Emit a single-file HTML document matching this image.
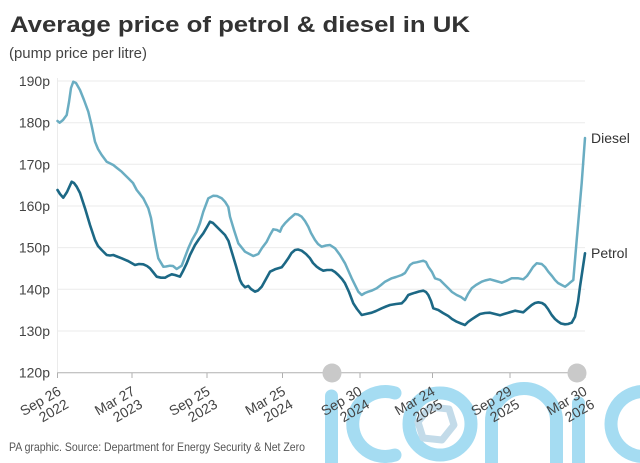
<!DOCTYPE html>
<html><head><meta charset="utf-8">
<style>
html,body{margin:0;padding:0;background:#fff;}
svg{display:block;font-family:"Liberation Sans",sans-serif;}
</style></head>
<body>
<svg width="640" height="463" viewBox="0 0 640 463" xmlns="http://www.w3.org/2000/svg">
<rect width="640" height="463" fill="#fff"/>
<text x="10" y="32" font-size="22" font-weight="bold" fill="#333" textLength="460" lengthAdjust="spacingAndGlyphs">Average price of petrol &amp; diesel in UK</text>
<text x="9" y="58" font-size="15" fill="#444" textLength="138" lengthAdjust="spacingAndGlyphs">(pump price per litre)</text>

<!-- gridlines -->
<g stroke="#ebebeb" stroke-width="1">
<line x1="57" y1="81" x2="585" y2="81"/>
<line x1="57" y1="122.7" x2="585" y2="122.7"/>
<line x1="57" y1="164.3" x2="585" y2="164.3"/>
<line x1="57" y1="206" x2="585" y2="206"/>
<line x1="57" y1="247.6" x2="585" y2="247.6"/>
<line x1="57" y1="289.3" x2="585" y2="289.3"/>
<line x1="57" y1="331" x2="585" y2="331"/>
<line x1="57.5" y1="78" x2="57.5" y2="372"/>
</g>
<line x1="57" y1="372.7" x2="585" y2="372.7" stroke="#b0b0b0" stroke-width="1"/>
<g stroke="#b0b0b0" stroke-width="1">
<line x1="57.5" y1="372.7" x2="57.5" y2="378"/>
<line x1="132" y1="372.7" x2="132" y2="378"/>
<line x1="207" y1="372.7" x2="207" y2="378"/>
<line x1="282.5" y1="372.7" x2="282.5" y2="378"/>
<line x1="360" y1="372.7" x2="360" y2="378"/>
<line x1="432.5" y1="372.7" x2="432.5" y2="378"/>
<line x1="510" y1="372.7" x2="510" y2="378"/>
<line x1="585" y1="372.7" x2="585" y2="378"/>
</g>

<!-- y labels -->
<g font-size="14" fill="#444" text-anchor="end">
<text x="50" y="86">190p</text>
<text x="50" y="127.7">180p</text>
<text x="50" y="169.3">170p</text>
<text x="50" y="211">160p</text>
<text x="50" y="252.6">150p</text>
<text x="50" y="294.3">140p</text>
<text x="50" y="336">130p</text>
<text x="50" y="377.7">120p</text>
</g>

<!-- watermark -->
<g fill="none" stroke="#a5dcf2" stroke-width="13" stroke-linecap="round">
<line x1="331.5" y1="396" x2="331.5" y2="475"/>
<path d="M 395 393 A 32.5 32.5 0 1 0 395 455"/>
<circle cx="440" cy="424" r="31"/>
<path d="M 491.5 475 V 421 A 32.5 32.5 0 0 1 556.5 421 V 475"/>
<line x1="578.5" y1="403" x2="578.5" y2="475"/>
<path d="M 656 394 A 32.5 32.5 0 1 0 656 454"/>
</g>
<polygon points="430,407 449,409 454,425 442,440 423,438 418,422" fill="none" stroke="#c3dbe9" stroke-width="7" stroke-linejoin="round"/>
<circle cx="332" cy="373" r="9.5" fill="#c9c9c9"/>
<circle cx="577" cy="373" r="9.5" fill="#c9c9c9"/>

<!-- x labels -->
<g font-size="14" fill="#444" text-anchor="end">
<g transform="translate(62,394) rotate(-30)"><text x="0" y="0">Sep 26</text><text x="0" y="15">2022</text></g>
<g transform="translate(136,394) rotate(-30)"><text x="0" y="0">Mar 27</text><text x="0" y="15">2023</text></g>
<g transform="translate(211,394) rotate(-30)"><text x="0" y="0">Sep 25</text><text x="0" y="15">2023</text></g>
<g transform="translate(286.5,394) rotate(-30)"><text x="0" y="0">Mar 25</text><text x="0" y="15">2024</text></g>
<g transform="translate(363,394) rotate(-30)"><text x="0" y="0">Sep 30</text><text x="0" y="15">2024</text></g>
<g transform="translate(436,394) rotate(-30)"><text x="0" y="0">Mar 24</text><text x="0" y="15">2025</text></g>
<g transform="translate(513,394) rotate(-30)"><text x="0" y="0">Sep 29</text><text x="0" y="15">2025</text></g>
<g transform="translate(588,394) rotate(-30)"><text x="0" y="0">Mar 30</text><text x="0" y="15">2026</text></g>
</g>

<!-- series -->
<polyline fill="none" stroke="#6aadc2" stroke-width="2.5" stroke-linejoin="round" stroke-linecap="round" points="57.5,121 59.7,122.7 63,120 66.7,115 69,102 71,88 73.3,81.7 76,83 80,90 84,100 88.3,111.7 91.5,125 95,141.7 98,149 101.7,155 106.7,161.7 113.3,165 117,168 121.7,171.7 128.3,178.3 133,183 136.7,190 143.3,198.3 148.3,208.3 151,218 153.3,231.7 156,247 158.3,258.3 163.3,266.7 166,266.5 170,265.7 173,266 176.7,269 181.7,265.7 185,257 188.3,248.3 192,240 196.7,231.7 200,223 203.3,211.7 208.3,198.3 213.3,195.7 217,196 221.7,198.3 225,201.7 228.3,207 230,216.7 234,230 238.3,243.3 245,251.7 253.3,256 258.3,254 262,248 266.7,241.7 270,235 273.3,229.3 277,230 280,231.7 282,227 285,223.3 290,218.3 295,214 298,214.5 301.7,216.7 305,221 308.3,226.7 311,233 315,240 318,244 321.7,246.7 326,245.5 330,245 335,248.3 340,255 345,263.3 351.7,278.3 358.3,291.7 361.7,295 365,293 368.3,291.7 372,290.5 376.7,288.3 381,285 385,281.7 391.7,278.3 396,277 401.7,275 405,273 410,265 413,263 416.7,262.3 423.3,260.7 426,262 428.3,266.7 432,272 435,278.3 440,280 444,284 448.3,288.3 452,292 456.7,295 461,297 465,300 468,294 471.7,288.3 476,285 481.7,281.7 485,280.5 490,279.3 496,281 501.7,282.7 506,281 511.7,278.3 518.3,278.3 523.3,279.3 527,276 530,271.7 533,267 536.7,263.3 541.7,264 545,267 548.3,271.7 552,276 555,280 558,283 561.7,285 565,286.7 568,284.5 570,282.7 573.3,280 576.7,240 581.7,183 585,138"/>
<polyline fill="none" stroke="#1c6885" stroke-width="2.6" stroke-linejoin="round" stroke-linecap="round" points="57.5,190 60,194 63.3,197.7 67,192 71.7,181.7 74,183 76.7,186.7 80,193 85,208.3 90,225 95,240 98,246 101.7,250 106.7,255 110,255.5 113.3,255 117,256.5 121.7,258.3 128,261 135,265 139,264 143.3,264.3 147,266 150,268.3 153,272 156.7,276.7 161,277.7 165,277.7 168,276 171.7,274.3 175,275 180,276.7 183,271 186.7,263.3 190,255 195,245 199,239 203.3,233.3 207,227 210,221.7 213,223 216.7,226.7 221,231 225,235 228.5,241 231.7,251.7 236,266 240,280 242,284 245,287.3 248.3,286 251,289 255,291.7 258,290.5 261.7,286.7 266,279 270,271.7 275,269.3 281.7,267.3 285,263 288.3,258.3 291.5,253 295,250 298,249.5 301.7,250.7 306,254 310,258.3 313,263 316.7,266.7 320,269 323.3,270.7 327,270 331.7,270 335,272 338.3,275 342,279 345,283.3 349,292 353.3,303.3 357,309 361.7,315 366,314 371.7,312.7 376,311 381.7,308.3 386,306.5 390,305 396,304 401.7,303.3 405,300 408.3,295 411,294 415,292.7 419,291.5 423.3,290.7 426,292 428.3,295 431,301 433.3,308.3 438.3,310 443,313 448.3,316 452,319 456.7,321.7 461,323.5 465,325 468,322 471.7,319.3 476,316.5 480,314 485,313 490,312.7 495,314 500,315.3 504,314 508.3,312.7 515,310.7 519,311.5 523.3,312.3 527,309 531.7,305 535,303 538.3,302.3 542,303 545,305 548,309 551.7,315 555,319 558.3,321.7 561,323.5 565,324.3 568,324 571.7,322.7 575,316.7 578,302 580,286.7 582.5,270 585,253.3"/>

<text x="591" y="143" font-size="14" fill="#333">Diesel</text>
<text x="591" y="258" font-size="14" fill="#333">Petrol</text>

<text x="9" y="451" font-size="12" fill="#555" textLength="296" lengthAdjust="spacingAndGlyphs">PA graphic. Source: Department for Energy Security &amp; Net Zero</text>
</svg>
</body></html>
